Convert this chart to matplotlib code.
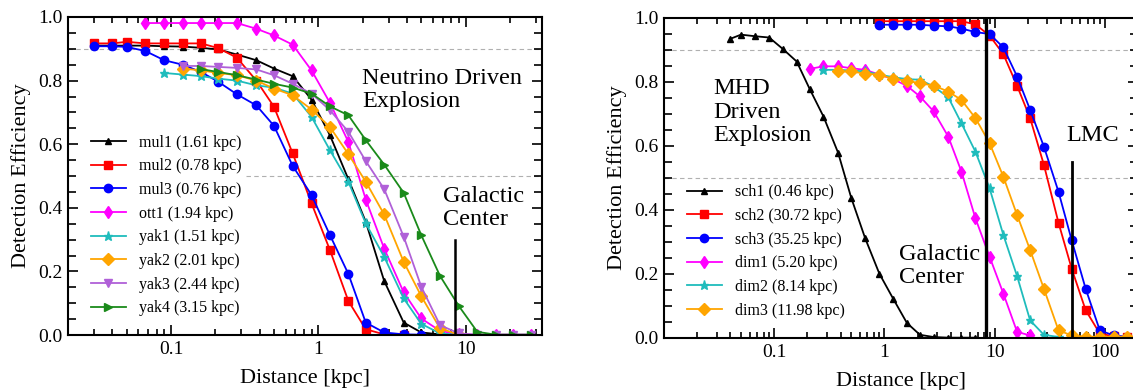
import matplotlib
matplotlib.use("Agg")
import matplotlib.pyplot as plt
from matplotlib.ticker import FuncFormatter, MultipleLocator, FixedLocator, LogLocator, NullFormatter

plt.rcParams['font.family'] = ['Liberation Serif', 'DejaVu Serif']

# ---- left panel: neutrino driven explosions ----
mul1_x = [0.03, 0.04, 0.05, 0.067, 0.09, 0.12, 0.16, 0.21, 0.28, 0.38, 0.5, 0.67, 0.9,
          1.2, 1.6, 2.1, 2.8, 3.8, 5.0, 6.7]
mul1_y = [0.91, 0.91, 0.91, 0.91, 0.908, 0.907, 0.903, 0.898, 0.882, 0.864, 0.838, 0.814,
          0.74, 0.628, 0.49, 0.356, 0.17, 0.039, 0.008, 0.002]
mul2_x = [0.03, 0.04, 0.05, 0.067, 0.09, 0.12, 0.16, 0.21, 0.28, 0.38, 0.5, 0.67, 0.9,
          1.2, 1.6, 2.1, 2.8, 3.8]
mul2_y = [0.917, 0.917, 0.922, 0.917, 0.917, 0.917, 0.917, 0.902, 0.872, 0.80, 0.718, 0.571,
          0.414, 0.267, 0.107, 0.018, 0.002, 0.0]
mul3_x = [0.03, 0.04, 0.05, 0.067, 0.09, 0.12, 0.16, 0.21, 0.28, 0.38, 0.5, 0.67, 0.9,
          1.2, 1.6, 2.1, 2.8, 3.8, 5.0]
mul3_y = [0.908, 0.908, 0.906, 0.893, 0.864, 0.850, 0.827, 0.796, 0.757, 0.722, 0.658, 0.532,
          0.44, 0.314, 0.192, 0.039, 0.008, 0.002, 0.001]
ott1_x = [0.067, 0.09, 0.12, 0.16, 0.21, 0.28, 0.38, 0.5, 0.67, 0.9, 1.2, 1.6, 2.1, 2.8,
          3.8, 5.0, 6.7, 9.0, 12, 16, 21, 28]
ott1_y = [0.981, 0.981, 0.981, 0.981, 0.981, 0.981, 0.963, 0.942, 0.913, 0.832, 0.73, 0.607,
          0.426, 0.272, 0.134, 0.052, 0.013, 0.002, 0.001, 0.001, 0.001, 0.001]
yak1_x = [0.09, 0.12, 0.16, 0.21, 0.28, 0.38, 0.5, 0.67, 0.9, 1.2, 1.6, 2.1, 2.8, 3.8,
          5.0, 6.7, 9.0]
yak1_y = [0.824, 0.819, 0.814, 0.806, 0.80, 0.785, 0.778, 0.759, 0.686, 0.581, 0.482, 0.351,
          0.246, 0.115, 0.035, 0.005, 0.001]
yak2_x = [0.12, 0.16, 0.21, 0.28, 0.38, 0.5, 0.67, 0.9, 1.2, 1.6, 2.1, 2.8, 3.8, 5.0,
          6.7, 9.0]
yak2_y = [0.838, 0.832, 0.824, 0.817, 0.80, 0.775, 0.754, 0.709, 0.654, 0.569, 0.482, 0.379,
          0.23, 0.122, 0.021, 0.001]
yak3_x = [0.12, 0.16, 0.21, 0.28, 0.38, 0.5, 0.67, 0.9, 1.2, 1.6, 2.1, 2.8, 3.8, 5.0,
          6.7, 9.0, 12, 16, 21, 28]
yak3_y = [0.846, 0.846, 0.843, 0.84, 0.835, 0.817, 0.79, 0.759, 0.707, 0.639, 0.547, 0.459,
          0.309, 0.152, 0.031, 0.005, 0.001, 0.001, 0.001, 0.001]
yak4_x = [0.16, 0.21, 0.28, 0.38, 0.5, 0.67, 0.9, 1.2, 1.6, 2.1, 2.8, 3.8, 5.0, 6.7,
          9.0, 12, 16, 21, 28]
yak4_y = [0.836, 0.827, 0.817, 0.803, 0.79, 0.778, 0.759, 0.719, 0.691, 0.613, 0.536, 0.447,
          0.314, 0.186, 0.091, 0.01, 0.001, 0.001, 0.001]

# ---- right panel: MHD driven explosions ----
sch1_x = [0.04, 0.05, 0.067, 0.09, 0.12, 0.16, 0.21, 0.28, 0.38, 0.5, 0.67, 0.9, 1.2,
          1.6, 2.1, 2.8, 3.8, 5.0, 6.7]
sch1_y = [0.935, 0.948, 0.943, 0.939, 0.903, 0.864, 0.778, 0.692, 0.579, 0.438, 0.311, 0.201,
          0.123, 0.047, 0.01, 0.003, 0.001, 0.001, 0.001]
sch2_x = [0.9, 1.2, 1.6, 2.1, 2.8, 3.8, 5.0, 6.7, 9.0, 12, 16, 21, 28, 38, 50, 67, 90,
          120, 160]
sch2_y = [0.99, 0.99, 0.99, 0.99, 0.99, 0.99, 0.99, 0.98, 0.945, 0.887, 0.788, 0.687, 0.541,
          0.36, 0.217, 0.087, 0.014, 0.005, 0.002]
sch3_x = [0.9, 1.2, 1.6, 2.1, 2.8, 3.8, 5.0, 6.7, 9.0, 12, 16, 21, 28, 38, 50, 67, 90,
          120, 160]
sch3_y = [0.979, 0.979, 0.979, 0.979, 0.976, 0.974, 0.967, 0.956, 0.95, 0.908, 0.817, 0.713,
          0.598, 0.457, 0.306, 0.154, 0.024, 0.008, 0.004]
dim1_x = [0.21, 0.28, 0.38, 0.5, 0.67, 0.9, 1.2, 1.6, 2.1, 2.8, 3.8, 5.0, 6.7, 9.0, 12,
          16, 21]
dim1_y = [0.841, 0.849, 0.849, 0.843, 0.838, 0.823, 0.809, 0.788, 0.755, 0.708, 0.629, 0.52,
          0.374, 0.254, 0.139, 0.019, 0.008]
dim2_x = [0.28, 0.38, 0.5, 0.67, 0.9, 1.2, 1.6, 2.1, 2.8, 3.8, 5.0, 6.7, 9.0, 12, 16, 21,
          28, 38]
dim2_y = [0.838, 0.838, 0.836, 0.833, 0.823, 0.815, 0.809, 0.807, 0.786, 0.752, 0.671, 0.582,
          0.468, 0.322, 0.193, 0.055, 0.01, 0.003]
dim3_x = [0.38, 0.5, 0.67, 0.9, 1.2, 1.6, 2.1, 2.8, 3.8, 5.0, 6.7, 9.0, 12, 16, 21, 28,
          38, 50, 67, 90, 120, 160]
dim3_y = [0.833, 0.833, 0.826, 0.823, 0.81, 0.804, 0.796, 0.789, 0.77, 0.744, 0.687, 0.609,
          0.504, 0.384, 0.275, 0.154, 0.024, 0.008, 0.004, 0.004, 0.004, 0.004]

left_series = [
    (mul1_x, mul1_y, "mul1 (1.61 kpc)", "black", "^", 5),
    (mul2_x, mul2_y, "mul2 (0.78 kpc)", "#ff0000", "s", 5.5),
    (mul3_x, mul3_y, "mul3 (0.76 kpc)", "#0000ff", "o", 6),
    (ott1_x, ott1_y, "ott1 (1.94 kpc)", "#ff00ff", "d", 6.5),
    (yak1_x, yak1_y, "yak1 (1.51 kpc)", "#1fbcbc", "*", 6.5),
    (yak2_x, yak2_y, "yak2 (2.01 kpc)", "#ffa500", "D", 6),
    (yak3_x, yak3_y, "yak3 (2.44 kpc)", "#b060d8", "v", 6),
    (yak4_x, yak4_y, "yak4 (3.15 kpc)", "#1a8a1a", ">", 6),
]
right_series = [
    (sch1_x, sch1_y, "sch1 (0.46 kpc)", "black", "^", 5),
    (sch2_x, sch2_y, "sch2 (30.72 kpc)", "#ff0000", "s", 5.5),
    (sch3_x, sch3_y, "sch3 (35.25 kpc)", "#0000ff", "o", 6),
    (dim1_x, dim1_y, "dim1 (5.20 kpc)", "#ff00ff", "d", 6.5),
    (dim2_x, dim2_y, "dim2 (8.14 kpc)", "#1fbcbc", "*", 6.5),
    (dim3_x, dim3_y, "dim3 (11.98 kpc)", "#ffa500", "D", 6),
]

fig = plt.figure(figsize=(11.33, 3.9), dpi=100)
ax1 = fig.add_axes([68 / 1133, 55 / 390, 474 / 1133, 318 / 390])
ax2 = fig.add_axes([664 / 1133, 52 / 390, 474 / 1133, 320 / 390])


def style_axes(ax, xlim, majors):
    ax.set_xscale("log")
    ax.set_xlim(*xlim)
    ax.set_ylim(0, 1.0)
    ax.yaxis.set_major_locator(MultipleLocator(0.2))
    ax.yaxis.set_minor_locator(MultipleLocator(0.05))
    ax.yaxis.set_major_formatter(FuncFormatter(lambda v, p: f"{v:.1f}"))
    ax.xaxis.set_major_locator(FixedLocator(majors))
    ax.xaxis.set_minor_locator(LogLocator(base=10, subs=range(2, 10)))
    ax.xaxis.set_major_formatter(FuncFormatter(lambda v, p: f"{v:g}"))
    ax.xaxis.set_minor_formatter(NullFormatter())
    ax.tick_params(which="both", direction="in", top=True, right=True, width=1.2)
    ax.tick_params(which="major", length=7, labelsize=14, pad=4)
    ax.tick_params(which="minor", length=4.5)
    ax.tick_params(axis="y", which="minor", length=6)
    for s in ax.spines.values():
        s.set_linewidth(1.5)
    ax.set_xlabel("Distance [kpc]", fontsize=16, labelpad=8)
    ax.set_ylabel("Detection Efficiency", fontsize=16, labelpad=5)


style_axes(ax1, (0.02, 33), [0.1, 1, 10])
style_axes(ax2, (0.01, 200), [0.1, 1, 10, 100])

# guide lines
ax1.axhline(0.9, color="#b0b0b0", ls=(0, (4, 3)), lw=0.8, zorder=0)
ax1.axhline(0.5, xmin=0.375, color="#b0b0b0", ls=(0, (4, 3)), lw=0.8, zorder=0)
ax2.axhline(0.9, color="#b0b0b0", ls=(0, (4, 3)), lw=0.8, zorder=0)
ax2.axhline(0.5, color="#b0b0b0", ls=(0, (4, 3)), lw=0.8, zorder=0)

for xs, ys, lab, col, mk, ms in left_series:
    ax1.plot(xs, ys, color=col, marker=mk, ms=ms, lw=1.3, label=lab)
for xs, ys, lab, col, mk, ms in right_series:
    ax2.plot(xs, ys, color=col, marker=mk, ms=ms, lw=1.3, label=lab)

# reference markers
ann = dict(fontsize=17.5, linespacing=1.15, va="bottom", ha="left")
ax1.plot([8.5, 8.5], [0, 0.30], color="black", lw=1.8)
ax1.text(7.0, 0.33, "Galactic\nCenter", **ann)
ax1.text(1.98, 0.70, "Neutrino Driven\nExplosion", **ann)

ax2.axvline(8.3, color="black", lw=2.4)
ax2.plot([50, 50], [0, 0.55], color="black", lw=2.0)
ax2.text(1.36, 0.155, "Galactic\nCenter", **ann)
ax2.text(45, 0.6, "LMC", **ann)
ax2.text(0.028, 0.6, "MHD\nDriven\nExplosion", **ann)

leg_kw = dict(frameon=False, fontsize=11.5, handlelength=2.2, handletextpad=0.8,
              labelspacing=0.48, borderpad=0, borderaxespad=0, loc="upper left")
ax1.legend(bbox_to_anchor=(0.048, 0.63), **leg_kw)
ax2.legend(bbox_to_anchor=(0.048, 0.48), **leg_kw)

fig.savefig("out.png", dpi=100)
